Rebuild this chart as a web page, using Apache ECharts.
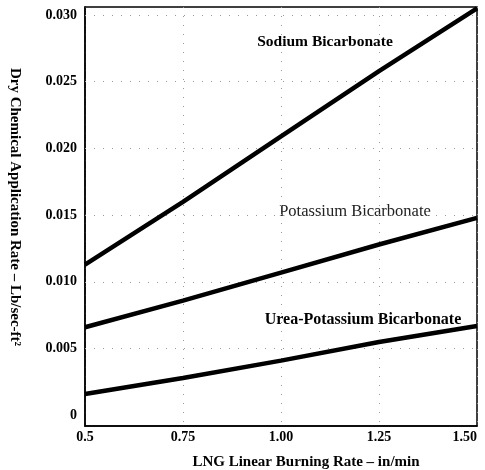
<!DOCTYPE html>
<html>
<head>
<meta charset="utf-8">
<script src="https://cdn.jsdelivr.net/npm/echarts@6/dist/echarts.min.js"></script>
<style>html,body{margin:0;padding:0;background:#fff}#c{width:485px;height:470px}</style>
</head>
<body>
<div id="c"></div>
<script>
const burningRate = [0.5, 0.75, 1.0, 1.25, 1.5];
const sodiumBicarbonate = [0.0113, 0.0160, 0.0209, 0.0258, 0.0305];
const potassiumBicarbonate = [0.0066, 0.0086, 0.0107, 0.0128, 0.0148];
const ureaPotassiumBicarbonate = [0.0016, 0.0028, 0.0041, 0.0055, 0.0067];
const yTickValues = [0, 0.005, 0.010, 0.015, 0.020, 0.025, 0.030];
const yTickLabels = ['0', '0.005', '0.010', '0.015', '0.020', '0.025', '0.030'];
const xTickValues = [0.5, 0.75, 1.0, 1.25, 1.5];
const xTickLabels = ['0.5', '0.75', '1.00', '1.25', '1.50'];
const seriesNames = ['Sodium Bicarbonate', 'Potassium Bicarbonate', 'Urea-Potassium Bicarbonate'];
const xTitle = 'LNG Linear Burning Rate – in/min';
const yTitle = 'Dry Chemical Application Rate – Lb/sec-ft²';

const font = 'Liberation Serif';
const chart = echarts.init(document.getElementById('c'));
const pair = arr => burningRate.map((x, i) => [x, arr[i]]);
const lineSeries = (name, arr) => ({
  name, type: 'line', data: pair(arr), symbol: 'none', smooth: false,
  lineStyle: {color: '#000', width: 4.5}, z: 5
});
const dotStyle = {color: '#999', width: 1, type: [1, 8]};
const xMin = xTickValues[0], xMax = xTickValues[xTickValues.length - 1];

chart.setOption({
  animation: false,
  backgroundColor: '#fff',
  grid: {left: 85, right: 8, top: 7, bottom: 44, outerBoundsMode: 'none', containLabel: false,
         show: true, borderColor: '#000', borderWidth: 1.5, backgroundColor: 'transparent'},
  xAxis: {
    type: 'value', min: xMin, max: xMax, interval: 0.25,
    axisLine: {show: true, onZero: false, lineStyle: {color: '#000', width: 1.5}},
    axisTick: {show: false},
    axisLabel: {
      color: '#000', fontFamily: font, fontWeight: 'bold', fontSize: 14, margin: 4,
      alignMaxLabel: 'right',
      formatter: v => { const i = xTickValues.findIndex(t => Math.abs(t - v) < 1e-9); return i >= 0 ? xTickLabels[i] : ''; }
    },
    splitLine: {show: true, lineStyle: dotStyle}
  },
  yAxis: {
    type: 'value', min: -0.0008, max: 0.0306,
    axisLine: {show: true, onZero: false, lineStyle: {color: '#000', width: 1.5}},
    axisTick: {show: false, customValues: yTickValues},
    axisLabel: {
      customValues: yTickValues,
      color: '#000', fontFamily: font, fontWeight: 'bold', fontSize: 14, margin: 8,
      formatter: v => { const i = yTickValues.findIndex(t => Math.abs(t - v) < 1e-9); return i >= 0 ? yTickLabels[i] : ''; }
    },
    splitLine: {show: false}
  },
  series: [
    lineSeries(seriesNames[0], sodiumBicarbonate),
    lineSeries(seriesNames[1], potassiumBicarbonate),
    lineSeries(seriesNames[2], ureaPotassiumBicarbonate),
    {
      type: 'line', data: [], silent: true,
      markLine: {
        silent: true, symbol: ['none', 'none'], label: {show: false},
        lineStyle: dotStyle,
        data: yTickValues.slice(1).map(v => [{coord: [xMin, v]}, {coord: [xMax, v]}])
      }
    }
  ],
  graphic: [
    {type: 'text', x: 15, y: 207, rotation: -Math.PI / 2, style: {text: yTitle, fill: '#000', font: 'bold 15px "Liberation Serif"', align: 'center', verticalAlign: 'middle'}},
    {type: 'text', x: 325, y: 42, style: {text: seriesNames[0], fill: '#000', font: 'bold 15.5px "Liberation Serif"', align: 'center', verticalAlign: 'middle'}},
    {type: 'text', x: 355, y: 212, style: {text: seriesNames[1], fill: '#222', font: '16.5px "Liberation Serif"', align: 'center', verticalAlign: 'middle'}},
    {type: 'text', x: 363, y: 320, style: {text: seriesNames[2], fill: '#000', font: 'bold 16px "Liberation Serif"', align: 'center', verticalAlign: 'middle'}},
    {type: 'text', x: 306, y: 462, style: {text: xTitle, fill: '#000', font: 'bold 15px "Liberation Serif"', align: 'center', verticalAlign: 'middle'}}
  ]
});
</script>
</body>
</html>
